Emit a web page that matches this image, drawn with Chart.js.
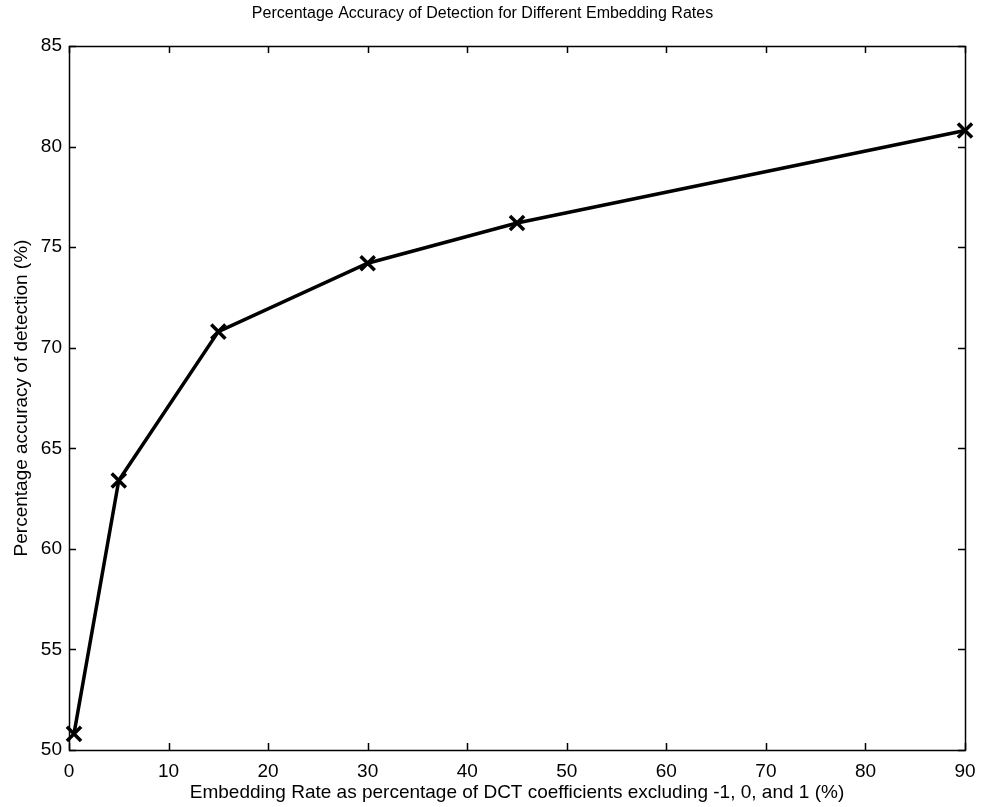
<!DOCTYPE html>
<html>
<head>
<meta charset="utf-8">
<script src="https://cdn.jsdelivr.net/npm/chart.js@4/dist/chart.umd.min.js"></script>
<style>
  html, body { margin: 0; padding: 0; background: #fff; }
  #c { display: block; }
</style>
</head>
<body>
<canvas id="c" width="983" height="807"></canvas>
<script>
const chartTitle = "Percentage Accuracy of Detection for Different Embedding Rates";
const xTitle = "Embedding Rate as percentage of DCT coefficients excluding -1, 0, and 1 (%)";
const yTitle = "Percentage accuracy of detection (%)";
const embeddingRates = [0.5, 5, 15, 30, 45, 90];
const accuracy = [50.8, 63.4, 70.8, 74.2, 76.2, 80.8];
const xTicks = [0, 10, 20, 30, 40, 50, 60, 70, 80, 90];
const yTicks = [50, 55, 60, 65, 70, 75, 80, 85];

const FONT = "'Liberation Sans', Arial, sans-serif";

const boxTicks = {
  id: 'boxTicks',
  afterDatasetsDraw(chart) {
    const {ctx, chartArea: a, scales: {x, y}} = chart;
    const L = 7;
    ctx.save();
    ctx.strokeStyle = '#000';
    ctx.lineWidth = 1.5;
    ctx.beginPath();
    x.ticks.forEach((t, i) => {
      const px = Math.round(x.getPixelForTick(i)) + 0.5;
      ctx.moveTo(px, a.bottom); ctx.lineTo(px, a.bottom - L);
      ctx.moveTo(px, a.top); ctx.lineTo(px, a.top + L);
    });
    y.ticks.forEach((t, i) => {
      const py = Math.round(y.getPixelForTick(i)) + 0.5;
      ctx.moveTo(a.left, py); ctx.lineTo(a.left + L, py);
      ctx.moveTo(a.right, py); ctx.lineTo(a.right - L, py);
    });
    ctx.stroke();
    ctx.strokeRect(Math.round(a.left) + 0.5, Math.round(a.top) + 0.5,
                   Math.round(a.right - a.left), Math.round(a.bottom - a.top));
    ctx.restore();
  }
};

new Chart(document.getElementById('c'), {
  type: 'line',
  data: {
    datasets: [{
      data: embeddingRates.map((r, i) => ({x: r, y: accuracy[i]})),
      borderColor: '#000',
      backgroundColor: '#000',
      borderWidth: 3.5,
      pointStyle: 'crossRot',
      pointRadius: 10,
      pointBorderWidth: 3.5,
      pointBorderColor: '#000',
      tension: 0,
      clip: false,
      fill: false
    }]
  },
  options: {
    responsive: false,
    devicePixelRatio: 1,
    animation: false,
    layout: { padding: { left: 0, right: 18, top: 0, bottom: 0 } },
    plugins: {
      legend: { display: false },
      tooltip: { enabled: false },
      title: {
        display: true,
        text: chartTitle,
        color: '#000',
        font: { family: FONT, size: 16, weight: 'normal' },
        padding: { top: 4, bottom: 22.8 }
      }
    },
    scales: {
      x: {
        type: 'linear',
        min: 0, max: 90,
        grid: { display: false, drawTicks: false },
        border: { display: false },
        afterBuildTicks: s => { s.ticks = xTicks.map(v => ({value: v})); },
        ticks: { color: '#000', font: { family: FONT, size: 19 }, padding: 10, maxRotation: 0, autoSkip: false },
        title: { display: true, text: xTitle, color: '#000', font: { family: FONT, size: 19 }, padding: { top: 0, bottom: 3 } },
        afterFit: s => { s.height = 57; s.paddingLeft = 0; s.paddingRight = 0; }
      },
      y: {
        type: 'linear',
        min: 50, max: 85,
        grid: { display: false, drawTicks: false },
        border: { display: false },
        afterBuildTicks: s => { s.ticks = yTicks.map(v => ({value: v})); },
        ticks: { color: '#000', font: { family: FONT, size: 19 }, padding: 7, autoSkip: false },
        title: { display: true, text: yTitle, color: '#000', font: { family: FONT, size: 19 }, padding: { top: 10, bottom: 0 } },
        afterFit: s => { s.width = 69; s.paddingTop = 0; s.paddingBottom = 0; }
      }
    }
  },
  plugins: [boxTicks]
});
</script>
</body>
</html>
